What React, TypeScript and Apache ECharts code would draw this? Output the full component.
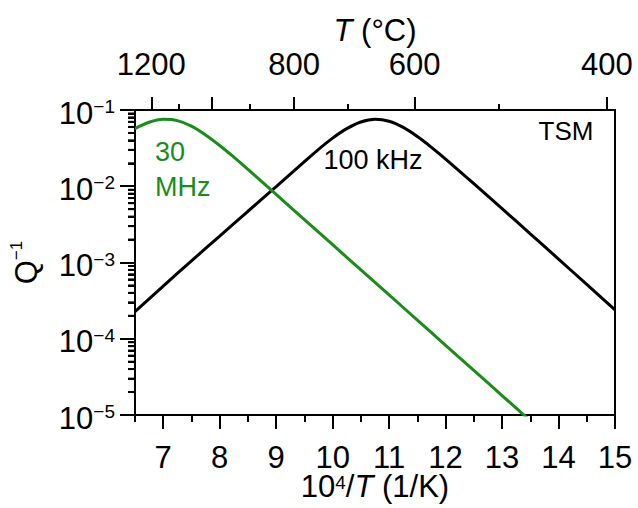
import React, { useEffect, useRef } from 'react';
import * as echarts from 'echarts';

// Bottom axis (10^4/T in 1/K)
const xTickValues = [7, 8, 9, 10, 11, 12, 13, 14, 15];
const xMinorTickValues = [6.5, 7.5, 8.5, 9.5, 10.5, 11.5, 12.5, 13.5, 14.5];
// Top axis (T in °C)
const topLabelTemps = [1200, 800, 600, 400];
const topMajorTemps = [1200, 1000, 800, 600, 400];
const topMinorTemps = [1100, 900, 700, 500];
// Left axis minor ticks
const yDecades = [1e-5, 1e-4, 1e-3, 1e-2];
const yMinorMultipliers = [2, 3, 4, 5, 6, 7, 8, 9];

// 100 kHz curve
const x100kHz = [6.5, 7, 7.5, 8, 8.5, 9, 9.5, 9.75, 10, 10.25, 10.5, 10.75, 11, 11.25, 11.5, 11.75, 12, 12.5, 13, 13.5, 14, 14.5, 15];
const q100kHz = [2.27e-4, 4.9e-4, 1.05e-3, 2.22e-3, 4.7e-3, 9.9e-3, 2.1e-2, 3.05e-2, 4.28e-2, 5.69e-2, 6.96e-2, 7.55e-2, 7.11e-2, 5.91e-2, 4.49e-2, 3.24e-2, 2.27e-2, 1.08e-2, 5.08e-3, 2.38e-3, 1.11e-3, 5.15e-4, 2.4e-4];

// 30 MHz curve
const x30MHz = [6.5, 6.75, 7, 7.25, 7.5, 7.75, 8, 8.25, 8.5, 9, 9.5, 10, 10.5, 11, 11.5, 12, 12.5, 13, 13.5];
const q30MHz = [0.057, 0.069, 0.0754, 0.0725, 0.0613, 0.047, 0.0342, 0.0241, 0.0167, 7.8e-3, 3.65e-3, 1.71e-3, 8.0e-4, 3.75e-4, 1.76e-4, 8.2e-5, 3.85e-5, 1.8e-5, 8.4e-6];

const GREEN = '#1a8c1a';
const FONT = "'Liberation Sans', Arial, sans-serif";
const LABEL_SIZE = 31;
const X_MIN = 6.5;
const X_MAX = 15;
const GRID = { left: 135, right: 23, top: 110, bottom: 93 };
const CHART_W = 638;
const CHART_H = 508;

const toInvT = (c: number) => 1e4 / (c + 273.15);

export default function App() {
  const ref = useRef<HTMLDivElement>(null);
  useEffect(() => {
    if (!ref.current) return;
    const chart = echarts.init(ref.current, null, { renderer: 'svg' });

    const yMinorRaw: number[] = [];
    for (let a = 0; a < yDecades.length; a++) {
      for (let b = 0; b < yMinorMultipliers.length; b++) {
        yMinorRaw.push(yDecades[a] * yMinorMultipliers[b]);
      }
    }
    const yMinorLog = yMinorRaw.map((v) => Math.log10(v));
    const plotWidth = CHART_W - GRID.left - GRID.right;

    const axisLineStyle = { color: '#000', width: 2 };
    const baseLabel = { color: '#000', fontFamily: FONT, fontSize: LABEL_SIZE };

    const option: any = {
      animation: false,
      backgroundColor: '#fff',
      grid: {
        ...GRID,
        outerBoundsMode: 'none', containLabel: false,
        show: true, borderColor: '#000', borderWidth: 2, backgroundColor: 'transparent',
      },
      xAxis: [
        {
          type: 'value', position: 'bottom', min: X_MIN, max: X_MAX,
          axisLine: { show: true, onZero: false, lineStyle: axisLineStyle },
          axisTick: { show: true, inside: false, length: 14, lineStyle: axisLineStyle, customValues: xTickValues },
          axisLabel: { ...baseLabel, lineHeight: 22, margin: 31, customValues: xTickValues },
          splitLine: { show: false },
          name: '{n|10}{s|4}{n|/}{i|T}{n| (1/K)}',
          nameLocation: 'middle', nameGap: 58, nameMoveOverlap: false,
          nameTextStyle: {
            color: '#000', fontFamily: FONT, fontSize: LABEL_SIZE,
            rich: {
              n: { fontFamily: FONT, fontSize: LABEL_SIZE, color: '#000', lineHeight: 26 },
              i: { fontFamily: FONT, fontSize: LABEL_SIZE, color: '#000', fontStyle: 'italic', lineHeight: 26 },
              s: { fontFamily: FONT, fontSize: 19, color: '#000', lineHeight: 14, verticalAlign: 'top' },
            },
          },
        },
        {
          type: 'value', position: 'bottom', min: X_MIN, max: X_MAX,
          axisLine: { show: false, onZero: false },
          axisTick: { show: true, inside: false, length: 7, lineStyle: axisLineStyle, customValues: xMinorTickValues },
          axisLabel: { show: false },
          splitLine: { show: false },
        },
        {
          type: 'value', position: 'top', min: X_MIN, max: X_MAX,
          axisLine: { show: true, onZero: false, lineStyle: axisLineStyle },
          axisTick: { show: true, inside: false, length: 13, lineStyle: axisLineStyle, customValues: topMajorTemps.map(toInvT) },
          axisLabel: {
            ...baseLabel, margin: 30, customValues: topLabelTemps.map(toInvT),
            formatter: (v: number) => String(Math.round((1e4 / v - 273.15) / 100) * 100),
          },
          splitLine: { show: false },
          name: '{i|T}{n| (°C)}',
          nameLocation: 'middle', nameGap: 64, nameMoveOverlap: false,
          nameTextStyle: {
            color: '#000', fontFamily: FONT, fontSize: LABEL_SIZE,
            rich: {
              n: { fontFamily: FONT, fontSize: LABEL_SIZE, color: '#000' },
              i: { fontFamily: FONT, fontSize: LABEL_SIZE, color: '#000', fontStyle: 'italic' },
            },
          },
        },
        {
          type: 'value', position: 'top', min: X_MIN, max: X_MAX,
          axisLine: { show: false, onZero: false },
          axisTick: { show: true, inside: false, length: 6, lineStyle: axisLineStyle, customValues: topMinorTemps.map(toInvT) },
          axisLabel: { show: false },
          splitLine: { show: false },
        },
      ],
      yAxis: [
        {
          type: 'log', logBase: 10, min: 1e-5, max: 1e-1, position: 'left',
          axisLine: { show: true, onZero: false, lineStyle: axisLineStyle },
          axisTick: { show: true, inside: false, length: 15, lineStyle: axisLineStyle },
          axisLabel: {
            margin: 20,
            formatter: (v: number) => {
              const n = Math.round(Math.log10(v));
              return `{b|10}{s|${n < 0 ? '\u2212' : ''}${Math.abs(n)}}`;
            },
            rich: {
              b: { fontFamily: FONT, fontSize: LABEL_SIZE, color: '#000', lineHeight: 34, padding: [6, 0, 0, 0] },
              s: { fontFamily: FONT, fontSize: 19, color: '#000', lineHeight: 20, padding: [4, 0, 0, 0], verticalAlign: 'top' },
            },
          },
          splitLine: { show: false },
          minorTick: { show: false },
          name: '{q|Q}{s|\u22121}',
          nameLocation: 'middle', nameGap: 95, nameRotate: 90, nameMoveOverlap: false,
          nameTextStyle: {
            color: '#000', fontFamily: FONT, fontSize: LABEL_SIZE,
            rich: {
              q: { fontFamily: FONT, fontSize: LABEL_SIZE, color: '#000', lineHeight: 34, padding: [6, 0, 0, 0] },
              s: { fontFamily: FONT, fontSize: 17, color: '#000', lineHeight: 18, padding: [2, 0, 0, 0], verticalAlign: 'top' },
            },
          },
        },
        {
          // minor log ticks: linear axis over the same decades, moved onto the left edge
          type: 'value', min: -5, max: -1, position: 'right', offset: -plotWidth,
          axisLine: { show: false, onZero: false },
          axisTick: { show: true, inside: true, length: 7, lineStyle: axisLineStyle, customValues: yMinorLog },
          axisLabel: { show: false },
          splitLine: { show: false },
        },
      ],
      series: [
        {
          name: '100 kHz', type: 'line', xAxisIndex: 0, yAxisIndex: 0,
          data: x100kHz.map((x, i) => [x, q100kHz[i]]),
          showSymbol: false, smooth: 0.35, clip: true,
          lineStyle: { color: '#000', width: 3 },
          itemStyle: { color: '#000' },
        },
        {
          name: '30 MHz', type: 'line', xAxisIndex: 0, yAxisIndex: 0,
          data: x30MHz.map((x, i) => [x, q30MHz[i]]),
          showSymbol: false, smooth: 0.35, clip: true,
          lineStyle: { color: GREEN, width: 3 },
          itemStyle: { color: GREEN },
        },
      ],
    };

    chart.setOption(option);

    // minor log ticks on the left axis, positioned through the log axis scale
    const xLeft = chart.convertToPixel({ xAxisIndex: 0 }, X_MIN) as number;
    const tickEls = yMinorRaw.map((v) => {
      const py = chart.convertToPixel({ yAxisIndex: 0 }, v) as number;
      return {
        type: 'line', z: 100, silent: true,
        shape: { x1: xLeft - 7, y1: py, x2: xLeft, y2: py },
        style: { stroke: '#000', lineWidth: 2 },
      };
    });

    const textEls = [
      { type: 'text', x: 566, y: 131, style: { text: 'TSM', fontFamily: FONT, fontSize: 26, fill: '#000', textAlign: 'center', textVerticalAlign: 'middle' } },
      { type: 'text', x: 373, y: 160, style: { text: '100 kHz', fontFamily: FONT, fontSize: 27, fill: '#000', textAlign: 'center', textVerticalAlign: 'middle' } },
      { type: 'text', x: 155, y: 152, style: { text: '30', fontFamily: FONT, fontSize: 27, fill: GREEN, textAlign: 'left', textVerticalAlign: 'middle' } },
      { type: 'text', x: 155, y: 187, style: { text: 'MHz', fontFamily: FONT, fontSize: 27, fill: GREEN, textAlign: 'left', textVerticalAlign: 'middle' } },
    ];

    chart.setOption({ graphic: [...textEls, ...tickEls] });
    return () => chart.dispose();
  }, []);

  return <div ref={ref} style={{ position: 'absolute', left: 0, top: 0, width: CHART_W, height: CHART_H }} />;
}
